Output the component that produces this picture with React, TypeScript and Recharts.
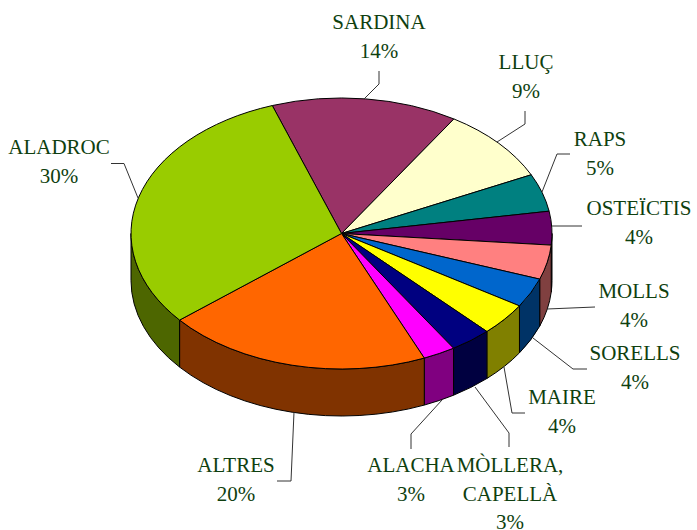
import React from 'react';
import { PieChart, Pie } from 'recharts';

// slice shares as they appear on the pie, clockwise from the Sardina edge
const names = ['SARDINA', 'LLUÇ', 'RAPS', 'OSTEÏCTIS', 'MOLLS', 'SORELLS', 'MAIRE', 'MÒLLERA,|CAPELLÀ', 'ALACHA', 'ALTRES', 'ALADROC'];
const shares = [14.3, 8.9, 4.5, 4.0, 4.1, 3.5, 3.9, 3.2, 2.5, 20.4, 30.7];
const percents = ['14%', '9%', '5%', '4%', '4%', '4%', '4%', '3%', '3%', '20%', '30%'];

const colors = ['#993366', '#FFFFCC', '#008080', '#660066', '#FF8080', '#0066CC', '#FFFF00', '#000080', '#FF00FF', '#FF6600', '#99CC00'];
const sideColors = ['#4D1933', '#808066', '#004040', '#330033', '#804040', '#003366', '#808000', '#000040', '#800080', '#803300', '#4D6600'];

// label placement: centre x, first baseline
const labelPos = [[379, 29], [526, 69], [600, 146], [639, 215], [634, 298], [635, 360], [562, 404], [510, 472], [411, 472], [236, 472], [59, 154]];
const leaders = [
  [[364, 99], [379, 84], [379, 71]],
  [[497, 142], [525, 124], [525, 111]],
  [[542, 192], [557, 154], [570, 154]],
  [[552, 226], [582, 226]],
  [[547, 309], [595, 307]],
  [[533, 338], [573, 369], [587, 369]],
  [[504, 367], [512, 413], [525, 413]],
  [[475, 387], [509, 433], [509, 447]],
  [[442, 400], [411, 434], [411, 449]],
  [[294, 412], [291, 481], [277, 481]],
  [[138, 198], [124, 163.5], [111, 163.5]],
];

const tableData = names.map((name, i) => ({ name, value: shares[i], percent: percents[i] }));

const SQUASH = 135.5 / 210.5;
const DEPTH = 47;
const RAD = Math.PI / 180;
const TEXT_COLOR = '#0F3F0F';
const LINE_HEIGHT = 28.6;

const Slice3D = (props: any) => {
  const { cx, cy, outerRadius: r, startAngle, endAngle, index } = props;
  const hi = Math.max(startAngle, endAngle);
  const lo = Math.min(startAngle, endAngle);
  const ry = r * SQUASH;
  const px = (a: number) => cx + r * Math.cos(a * RAD);
  const py = (a: number) => cy - ry * Math.sin(a * RAD);
  const large = hi - lo > 180 ? 1 : 0;
  const top = `M${cx},${cy} L${px(hi)},${py(hi)} A${r},${ry} 0 ${large} 1 ${px(lo)},${py(lo)} Z`;

  // side wall: only the part of the rim in the front half (angle -180..0, any turn)
  const walls: string[] = [];
  for (let k = -2; k <= 1; k++) {
    const from = Math.min(hi, 360 * k);
    const to = Math.max(lo, 360 * k - 180);
    if (from > to) {
      walls.push(
        `M${px(from)},${py(from)} A${r},${ry} 0 0 1 ${px(to)},${py(to)} L${px(to)},${py(to) + DEPTH} A${r},${ry} 0 0 0 ${px(from)},${py(from) + DEPTH} Z`
      );
    }
  }
  return (
    <g>
      {walls.map((d, i) => (
        <path key={i} d={d} fill={sideColors[index]} stroke="#000" strokeWidth={1} strokeLinejoin="round" />
      ))}
      <path d={top} fill={colors[index]} stroke="#000" strokeWidth={1} strokeLinejoin="round" />
    </g>
  );
};

const renderLabel = (props: any) => {
  const { index } = props;
  const [x, y] = labelPos[index];
  const lines = [...names[index].split('|'), percents[index]];
  return (
    <text x={x} y={y} textAnchor="middle" fill={TEXT_COLOR} fontFamily="'Liberation Serif', serif" fontSize={21}>
      {lines.map((t, i) => (
        <tspan key={i} x={x} y={y + i * LINE_HEIGHT}>{t}</tspan>
      ))}
    </text>
  );
};

const renderLeader = (props: any) => (
  <polyline
    points={leaders[props.index].map((p) => p.join(',')).join(' ')}
    fill="none"
    stroke="#333"
    strokeWidth={1}
  />
);

export default function App() {
  return (
    <div style={{ position: 'absolute', left: 0, top: 0, width: 697, height: 530, background: '#fff' }}>
      <PieChart width={697} height={530} margin={{ top: 0, right: 0, bottom: 0, left: 0 }}>
        <Pie
          data={tableData}
          dataKey="value"
          nameKey="name"
          cx={341.5}
          cy={233.5}
          outerRadius={210.5}
          innerRadius={0}
          startAngle={109.2}
          endAngle={-250.8}
          paddingAngle={0}
          shape={Slice3D}
          label={renderLabel}
          labelLine={renderLeader}
          isAnimationActive={false}
        />
      </PieChart>
    </div>
  );
}
